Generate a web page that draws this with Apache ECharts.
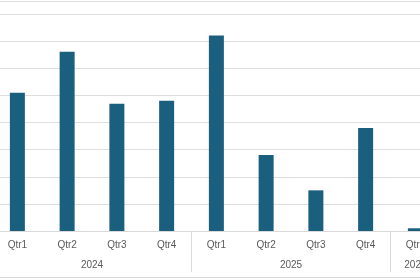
<!DOCTYPE html>
<html>
<head>
<meta charset="utf-8">
<script src="https://cdn.jsdelivr.net/npm/echarts@6/dist/echarts.min.js"></script>
<style>html,body{margin:0;padding:0;background:#fff}#c{width:420px;height:280px}</style>
</head>
<body>
<div id="c"></div>
<script>
var quarters = ['Qtr1','Qtr2','Qtr3','Qtr4','Qtr1','Qtr2','Qtr3','Qtr4','Qtr1'];
var values = [5.10, 6.61, 4.70, 4.81, 7.21, 2.80, 1.50, 3.80, 0.10];
var years = ['2024','2025','2026'];
var yearSizes = [4, 4, 1];

// half-slot positions for the year level (boundaries and centers)
var yearSlots = [];
for (var i = 0; i <= quarters.length * 2; i++) yearSlots.push('');
var sepIdx = {0: true};
var labIdx = {};
var pos = 0;
for (var g = 0; g < years.length; g++) {
  var mid = pos * 2 + yearSizes[g];
  yearSlots[mid] = years[g];
  labIdx[mid] = true;
  pos += yearSizes[g];
  sepIdx[pos * 2] = true;
}

var chart = echarts.init(document.getElementById('c'), null, {renderer: 'canvas'});
var font = 'Liberation Sans, Arial, sans-serif';
chart.setOption({
  animation: false,
  grid: {left: -7.5, width: 447.75, top: 1, height: 230, containLabel: false, outerBoundsMode: 'none'},
  yAxis: {
    type: 'value', min: 0, max: 8.487, interval: 1,
    axisLabel: {show: false}, axisLine: {show: false}, axisTick: {show: false},
    splitLine: {lineStyle: {color: '#dedede', width: 1}}
  },
  xAxis: [
    {
      type: 'category', data: quarters, position: 'bottom',
      axisLine: {lineStyle: {color: '#d9d9d9'}},
      axisTick: {show: false},
      axisLabel: {color: '#595959', fontSize: 10, fontFamily: font, margin: 9}
    },
    {
      type: 'category', data: yearSlots, position: 'bottom', offset: 41,
      boundaryGap: false,
      axisLine: {show: false},
      axisTick: {show: true, inside: true, length: 41,
        interval: function (idx) { return !!sepIdx[idx]; },
        lineStyle: {color: '#d9d9d9'}},
      axisLabel: {show: true, inside: true, color: '#595959', fontSize: 10, fontFamily: font, margin: 2,
        interval: function (idx) { return !!labIdx[idx]; }}
    },
    {
      type: 'category', data: quarters, position: 'bottom', offset: 46.5,
      axisLine: {lineStyle: {color: '#d9d9d9'}},
      axisTick: {show: false}, axisLabel: {show: false}
    }
  ],
  series: [{
    type: 'bar', data: values, xAxisIndex: 0, barWidth: 15,
    itemStyle: {color: '#1a5f7e'}
  }]
});
</script>
</body>
</html>
